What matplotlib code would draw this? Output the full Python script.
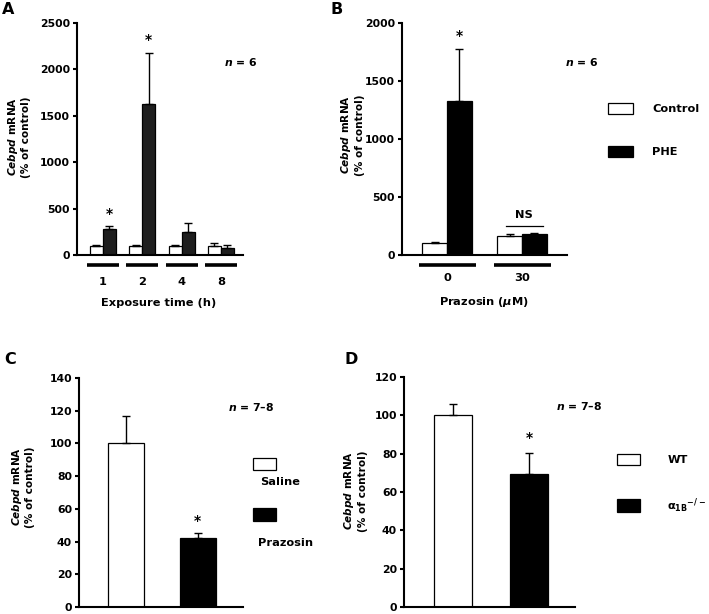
import matplotlib
matplotlib.use("Agg")
import matplotlib.pyplot as plt
from matplotlib.patches import Rectangle
from matplotlib.transforms import blended_transform_factory
import numpy as np

plt.rcParams['font.family'] = ['DejaVu Sans']
plt.rcParams['font.weight'] = 'bold'
plt.rcParams['mathtext.fontset'] = 'custom'
plt.rcParams['mathtext.rm'] = 'DejaVu Sans:bold'
plt.rcParams['mathtext.it'] = 'DejaVu Sans:italic:bold'
plt.rcParams['mathtext.bf'] = 'DejaVu Sans:bold'
plt.rcParams['mathtext.sf'] = 'DejaVu Sans:bold'

# ---------------- data ----------------
# Panel A: exposure time
a_groups = ["1", "2", "4", "8"]
a_control = [100, 100, 100, 100]
a_control_err = [5, 5, 5, 30]
a_phe = [280, 1625, 245, 80]
a_phe_err = [30, 555, 100, 28]
a_sig = [True, True, False, False]

# Panel B: prazosin
b_groups = ["0", "30"]
b_control = [100, 165]
b_control_err = [10, 12]
b_phe = [1330, 185]
b_phe_err = [445, 5]

# Panel C: saline vs prazosin
c_labels = ["Saline", "Prazosin"]
c_values = [100, 42]
c_err = [16.5, 3.5]

# Panel D: WT vs alpha1B KO
d_labels = ["WT", r"$\mathregular{\alpha_{1B}}^{\mathregular{-/-}}$"]
d_values = [100, 69.5]
d_err = [6, 11]

W, H = 709, 614
fig = plt.figure(figsize=(W / 100, H / 100), dpi=100)

TICK_FS = 7.8
LAB_FS = 8.2
YLAB_FS = 7.6
CAP = 2.7


def rect(l, t, r, b):
    return [l / W, 1 - b / H, (r - l) / W, (b - t) / H]


def fx(x):
    return x / W


def fy(y):
    return 1 - y / H


def style(ax, yticks):
    for s in ["top", "right"]:
        ax.spines[s].set_visible(False)
    for s in ["left", "bottom"]:
        ax.spines[s].set_linewidth(1.5)
    ax.set_yticks(yticks)
    ax.tick_params(axis='y', length=3, width=1.5, labelsize=TICK_FS, pad=2)
    ax.tick_params(axis='x', length=0)
    for t in ax.get_yticklabels():
        t.set_fontweight('bold')


def legend_box(x0, y0, x1, y1, color):
    fig.patches.append(Rectangle((fx(x0), fy(y1)), fx(x1 - x0), fy(y0) - fy(y1),
                                 transform=fig.transFigure, facecolor=color,
                                 edgecolor='black', linewidth=0.9))


def ylabel(x, y):
    fig.text(fx(x), fy(y), "$\\mathit{Cebpd}$ mRNA\n(% of control)", rotation=90,
             ha='center', va='center', fontsize=YLAB_FS, linespacing=1.15,
             multialignment='center')


black = 'black'

# ---------------- Panel A ----------------
axA = fig.add_axes(rect(77, 23, 243, 255))
xA = np.arange(len(a_groups))
bw = 0.33
axA.bar(xA - bw / 2, a_control, bw, color='white', edgecolor='black', linewidth=0.9)
axA.bar(xA + bw / 2, a_phe, bw, color='#1e1e1e', edgecolor='black', linewidth=0.9)
axA.errorbar(xA - bw / 2, a_control, yerr=[np.zeros(4), a_control_err], fmt='none',
             ecolor='black', elinewidth=1, capsize=CAP, capthick=1)
axA.errorbar(xA + bw / 2, a_phe, yerr=[np.zeros(4), a_phe_err], fmt='none',
             ecolor='black', elinewidth=1, capsize=CAP, capthick=1)
for i, s in enumerate(a_sig):
    if s:
        axA.text(xA[i] + bw / 2, a_phe[i] + a_phe_err[i] + 60, "*", ha='center',
                 va='bottom', fontsize=10, fontweight='bold')
axA.set_xlim(-0.66, 3.56)
axA.set_ylim(0, 2500)
style(axA, [0, 500, 1000, 1500, 2000, 2500])
axA.set_xticks(xA)
axA.set_xticklabels(a_groups, fontsize=LAB_FS, fontweight='bold')
axA.tick_params(axis='x', pad=16)
trA = blended_transform_factory(axA.transData, axA.transAxes)
for x in xA:
    axA.plot([x - 0.41, x + 0.41], [-0.043, -0.043], transform=trA, color='black',
             lw=2.6, clip_on=False, solid_capstyle='butt')
fig.text(fx(241), fy(62), "$\\mathit{n}$ = 6", ha='center', va='center', fontsize=TICK_FS)
fig.text(fx(159), fy(303), "Exposure time (h)", ha='center', va='center', fontsize=LAB_FS)
ylabel(18.5, 137)
fig.text(fx(8), fy(10), "A", ha='center', va='center', fontsize=11.5, fontweight='bold')

# ---------------- Panel B ----------------
axB = fig.add_axes(rect(402, 23, 567, 255))
xB = np.arange(len(b_groups))
bwB = 0.333
axB.bar(xB - bwB / 2, b_control, bwB, color='white', edgecolor='black', linewidth=0.9)
axB.bar(xB + bwB / 2, b_phe, bwB, color=black, edgecolor='black', linewidth=0.9)
axB.errorbar(xB - bwB / 2, b_control, yerr=[np.zeros(2), b_control_err], fmt='none',
             ecolor='black', elinewidth=1, capsize=CAP, capthick=1)
axB.errorbar(xB + bwB / 2, b_phe, yerr=[np.zeros(2), b_phe_err], fmt='none',
             ecolor='black', elinewidth=1, capsize=CAP, capthick=1)
axB.text(xB[0] + bwB / 2, b_phe[0] + b_phe_err[0] + 50, "*", ha='center', va='bottom',
         fontsize=10, fontweight='bold')
axB.plot([xB[1] - 0.22, xB[1] + 0.28], [250, 250], color='black', lw=0.9)
axB.text(xB[1] + 0.03, 300, "NS", ha='center', va='bottom', fontsize=LAB_FS)
axB.set_xlim(-0.6, 1.6)
axB.set_ylim(0, 2000)
style(axB, [0, 500, 1000, 1500, 2000])
axB.set_xticks(xB)
axB.set_xticklabels(b_groups, fontsize=LAB_FS, fontweight='bold')
axB.tick_params(axis='x', pad=13)
trB = blended_transform_factory(axB.transData, axB.transAxes)
for x in xB:
    axB.plot([x - 0.37, x + 0.38], [-0.043, -0.043], transform=trB, color='black',
             lw=2.6, clip_on=False, solid_capstyle='butt')
fig.text(fx(582), fy(62), "$\\mathit{n}$ = 6", ha='center', va='center', fontsize=TICK_FS)
fig.text(fx(484), fy(302), "Prazosin ($\\mathit{\\mu}$M)", ha='center', va='center',
         fontsize=LAB_FS)
ylabel(352, 135)
fig.text(fx(337), fy(10), "B", ha='center', va='center', fontsize=11.5, fontweight='bold')
legend_box(608, 103, 633, 114, 'white')
legend_box(608, 146, 633, 157, 'black')
fig.text(fx(652), fy(109), "Control", ha='left', va='center', fontsize=LAB_FS)
fig.text(fx(652), fy(152), "PHE", ha='left', va='center', fontsize=LAB_FS)

# ---------------- Panel C ----------------
axC = fig.add_axes(rect(79, 378, 243, 607))
xC = np.arange(len(c_values))
bwC = 0.5
axC.bar(xC, c_values, bwC, color=['white', 'black'], edgecolor='black', linewidth=0.9)
axC.errorbar(xC, c_values, yerr=[np.zeros(2), c_err], fmt='none', ecolor='black',
             elinewidth=1, capsize=CAP, capthick=1)
axC.text(xC[1], c_values[1] + c_err[1] + 3, "*", ha='center', va='bottom', fontsize=10,
         fontweight='bold')
axC.set_xlim(-0.65, 1.63)
axC.set_ylim(0, 140)
style(axC, [0, 20, 40, 60, 80, 100, 120, 140])
axC.set_xticks([])
fig.text(fx(251), fy(407), "$\\mathit{n}$ = 7\u20138", ha='center', va='center',
         fontsize=TICK_FS)
ylabel(22.5, 487)
fig.text(fx(10), fy(360), "C", ha='center', va='center', fontsize=11.5, fontweight='bold')
legend_box(253, 458, 276, 470, 'white')
legend_box(253, 508, 276, 521, 'black')
fig.text(fx(260), fy(482), c_labels[0], ha='left', va='center', fontsize=LAB_FS)
fig.text(fx(258), fy(543), c_labels[1], ha='left', va='center', fontsize=LAB_FS)

# ---------------- Panel D ----------------
axD = fig.add_axes(rect(404, 377, 575, 607))
xD = np.arange(len(d_values))
bwD = 0.5
axD.bar(xD, d_values, bwD, color=['white', 'black'], edgecolor='black', linewidth=0.9)
axD.errorbar(xD, d_values, yerr=[np.zeros(2), d_err], fmt='none', ecolor='black',
             elinewidth=1, capsize=CAP, capthick=1)
axD.text(xD[1], d_values[1] + d_err[1] + 4, "*", ha='center', va='bottom', fontsize=10,
         fontweight='bold')
axD.set_xlim(-0.64, 1.6)
axD.set_ylim(0, 120)
style(axD, [0, 20, 40, 60, 80, 100, 120])
axD.set_xticks([])
fig.text(fx(579), fy(406), "$\\mathit{n}$ = 7\u20138", ha='center', va='center',
         fontsize=TICK_FS)
ylabel(355, 491)
fig.text(fx(351), fy(360), "D", ha='center', va='center', fontsize=11.5, fontweight='bold')
legend_box(617, 454, 640, 465, 'white')
legend_box(617, 499, 640, 512, 'black')
fig.text(fx(668), fy(460), d_labels[0], ha='left', va='center', fontsize=LAB_FS)
fig.text(fx(667), fy(506), d_labels[1], ha='left', va='center', fontsize=LAB_FS)

fig.savefig("out.png", dpi=100, facecolor='white')
